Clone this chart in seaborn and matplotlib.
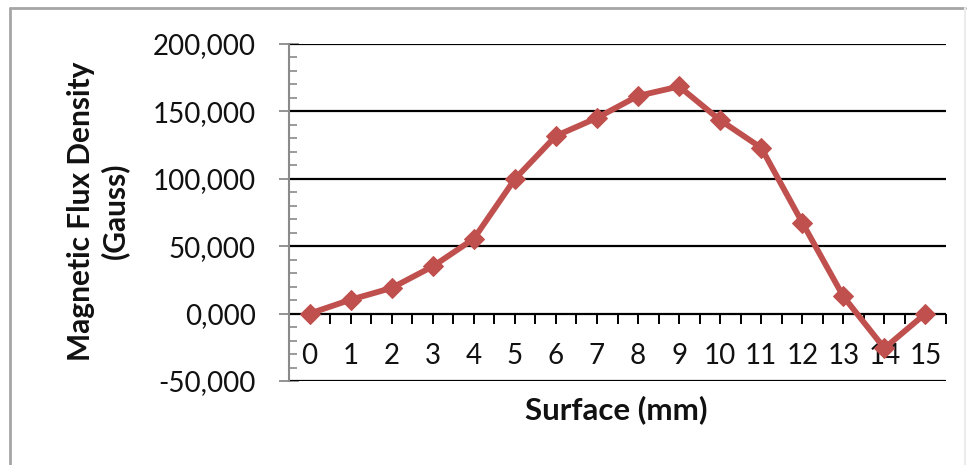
import matplotlib
matplotlib.use("Agg")
import matplotlib.pyplot as plt
from matplotlib.ticker import FixedLocator, MultipleLocator
from matplotlib.lines import Line2D
import seaborn as sns
import pandas as pd
import numpy as np

# ---- data ----
surface_mm = list(range(16))
x_labels = [str(v) for v in surface_mm]
flux_gauss = [0, 10300, 19000, 35000, 55500, 99800, 131800, 145200,
              161500, 168500, 143500, 123000, 67500, 12700, -25700, 0]
y_ticks = [-50000, 0, 50000, 100000, 150000, 200000]
y_tick_labels = ["-50,000", "0,000", "50,000", "100,000", "150,000", "200,000"]
x_title = "Surface (mm)"
y_title = "Magnetic Flux Density\n(Gauss)"

sns.set_theme(style="white")
plt.rcParams['font.family'] = ['Lato', 'DejaVu Sans']

W, H = 972, 465
fig = plt.figure(figsize=(W / 100, H / 100), dpi=100)
ax = fig.add_axes([289 / W, 1 - 381 / H, (946 - 289) / W, (381 - 44) / H])

df = pd.DataFrame({"x": surface_mm, "y": flux_gauss})
sns.lineplot(data=df, x="x", y="y", ax=ax, color="#C0504D", linewidth=4.2,
             marker="D", markersize=10, markeredgecolor="#C0504D", zorder=5)

ax.set_xlim(-0.5, 15.5)
ax.set_ylim(-50000, 200000)

# horizontal gridlines (black)
for yv in y_ticks:
    ax.axhline(yv, color="black", linewidth=1.6, zorder=2)

for s in ["top", "right"]:
    ax.spines[s].set_visible(False)
ax.spines["left"].set_color("#8a8a8a")
ax.spines["left"].set_linewidth(1.5)
ax.spines["bottom"].set_position(("data", 0))
ax.spines["bottom"].set_visible(False)

# y ticks
ax.yaxis.set_major_locator(FixedLocator(y_ticks))
ax.set_yticklabels(y_tick_labels)
ax.yaxis.set_minor_locator(MultipleLocator(10000))
ax.tick_params(axis="y", which="major", direction="inout", length=14, width=1.3,
               color="#8a8a8a", labelsize=20, pad=17, left=True, labelcolor="#111111")
ax.tick_params(axis="y", which="minor", direction="in", length=6, width=1.2,
               color="#8a8a8a", left=True)

# x ticks: major at boundaries (no labels), minor at categories (labels)
ax.xaxis.set_major_locator(FixedLocator(np.arange(-0.5, 16, 1.0)))
ax.xaxis.set_minor_locator(FixedLocator(surface_mm))
ax.set_xticklabels([""] * 17)
ax.set_xticklabels(x_labels, minor=True)
ax.tick_params(axis="x", which="both", direction="out", length=7, width=1.4,
               color="black", bottom=True, labelsize=20, pad=14, labelcolor="#111111")

ax.set_xlabel("")
ax.set_ylabel("")

fig.text(616 / W, 1 - 410 / H, x_title, ha="center", va="center",
         fontsize=22.5, fontweight="bold", color="#111111")
fig.text(98 / W, 1 - 211 / H, y_title, ha="center", va="center", rotation=90,
         fontsize=21.5, fontweight="bold", color="#111111", linespacing=1.2,
         multialignment="center")

# outer chart border
border_col = "#a6a6a6"
fig.add_artist(Line2D([10 / W, 10 / W], [0, 1 - 8 / H], transform=fig.transFigure,
                      color=border_col, linewidth=2))
fig.add_artist(Line2D([10 / W, 965 / W], [1 - 8 / H, 1 - 8 / H], transform=fig.transFigure,
                      color=border_col, linewidth=2))
fig.add_artist(Line2D([965 / W, 965 / W], [0, 1 - 8 / H], transform=fig.transFigure,
                      color="#ececec", linewidth=1.5))

fig.savefig("out.png", dpi=100, facecolor="white")
